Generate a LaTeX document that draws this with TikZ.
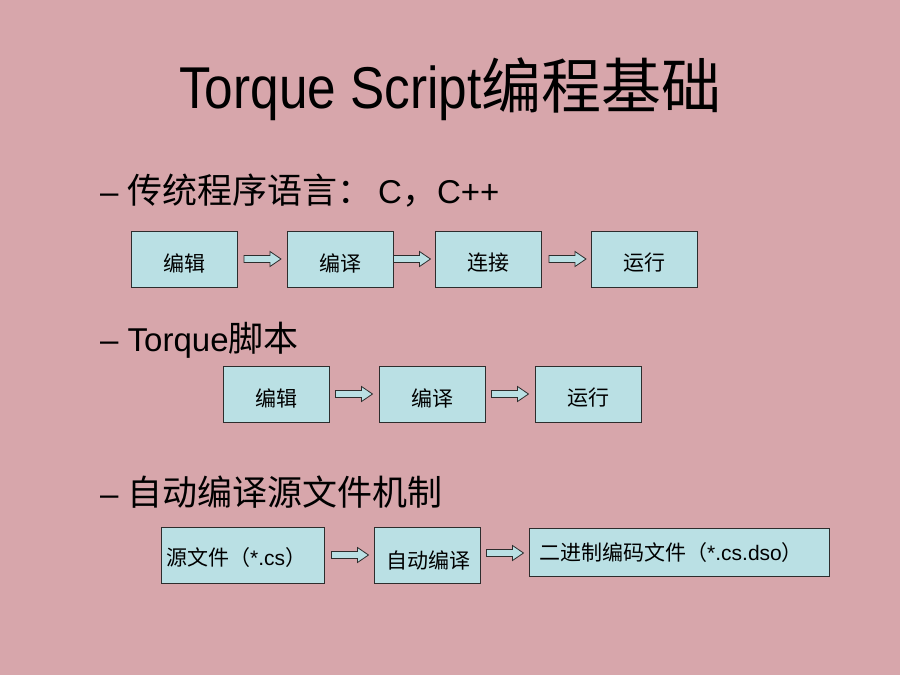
\documentclass[tikz,border=0pt]{standalone}
\usepackage{fontspec}
\setmainfont{Liberation Sans}
\newfontfamily\cjk{Noto Sans CJK SC}
\usetikzlibrary{calc}
\definecolor{bgpink}{RGB}{215,166,171}
\definecolor{boxcyan}{RGB}{186,224,228}
\definecolor{edgegray}{RGB}{45,45,45}
\tikzset{
  stepbox/.style={draw=edgegray, line width=1pt, fill=boxcyan, inner sep=0pt,
    minimum width=106pt, minimum height=56pt},
  stxt/.style={inner sep=0pt, yshift=-4pt, font=\fontsize{21}{21}\selectfont\cjk},
  blockarr/.style={draw=edgegray, line width=0.8pt, fill=boxcyan, line join=miter},
  bullet/.style={anchor=base west, inner sep=0pt, font=\fontsize{33}{33}\selectfont}
}
\newcommand{\blockarrow}[2]{% start coordinate name, length
  \draw[blockarr] ($(#1)+(0,3.5)$) -- ++(#2-11,0) -- ++(0,4) -- ++(11,-7.5) -- ++(-11,-7.5) -- ++(0,4) -- ++(-#2+11,0) -- cycle;}
\newcommand{\cj}[1]{{\cjk\fontsize{35}{35}\selectfont #1}}
\begin{document}
\begin{tikzpicture}[x=1pt,y=-1pt]
\fill[bgpink] (0,0) rectangle (900,675);
\useasboundingbox (0,0) rectangle (900,675);

% title
\node[anchor=base west, inner sep=0pt] (title) at (179,108)
  {\fontsize{59}{59}\selectfont\scalebox{0.87}[1]{Torque Script}{\cjk\fontsize{60}{60}\selectfont 编程基础}};

% bullets
\node[bullet] (b1) at (100,203) {– \cj{传统程序语言：}\,C\cj{，}C++};
\node[bullet] (b2) at (100,351) {– Torque\cj{脚本}};
\node[bullet] (b3) at (100,505) {– \cj{自动编译源文件机制}};

% row 1
\node[stepbox, label={[stxt]center:编辑}] (r1a) at (184.5,259) {};
\node[stepbox, label={[stxt]center:编译}] (r1b) at (340,259) {};
\node[stepbox, label={[stxt]center:连接}] (r1c) at (488.5,259) {};
\node[stepbox, label={[stxt]center:运行}] (r1d) at (644,259) {};
\coordinate (a11) at ($(r1a.east)+(6,0)$);
\coordinate (a12) at ($(r1b.east)+(0,0)$);
\coordinate (a13) at ($(r1c.east)+(7,0)$);
\blockarrow{a11}{37}
\blockarrow{a12}{37}
\blockarrow{a13}{37}

% row 2
\node[stepbox, label={[stxt]center:编辑}] (r2a) at (276,394) {};
\node[stepbox, label={[stxt]center:编译}] (r2b) at (432,394) {};
\node[stepbox, label={[stxt]center:运行}] (r2c) at (588,394) {};
\coordinate (a21) at ($(r2a.east)+(6,0)$);
\coordinate (a22) at ($(r2b.east)+(6,0)$);
\blockarrow{a21}{37}
\blockarrow{a22}{37}

% row 3
\node[stepbox, minimum width=163pt] (r3a) at (242.5,555) {};
\node[anchor=west, inner sep=0pt, font=\fontsize{21}{21}\selectfont] (t3a) at (166,558)
  {{\cjk 源文件（}*.cs{\cjk ）}};
\node[stepbox] (r3b) at (427,555.5) {};
\node[anchor=center, inner sep=0pt, font=\fontsize{21}{21}\selectfont\cjk] (t3b) at (428,560) {自动编译};
\node[stepbox, minimum width=300pt, minimum height=48pt] (r3c) at (679.5,552) {};
\node[anchor=west, inner sep=0pt, font=\fontsize{21}{21}\selectfont] (t3c) at (539,553)
  {{\cjk 二进制编码文件（}*.cs.dso{\cjk ）}};
\coordinate (a31) at ($(r3a.east)+(7,0)$);
\coordinate (a32) at ($(r3b.east)+(6,-2.5)$);
\blockarrow{a31}{37}
\blockarrow{a32}{37}
\end{tikzpicture}
\end{document}
